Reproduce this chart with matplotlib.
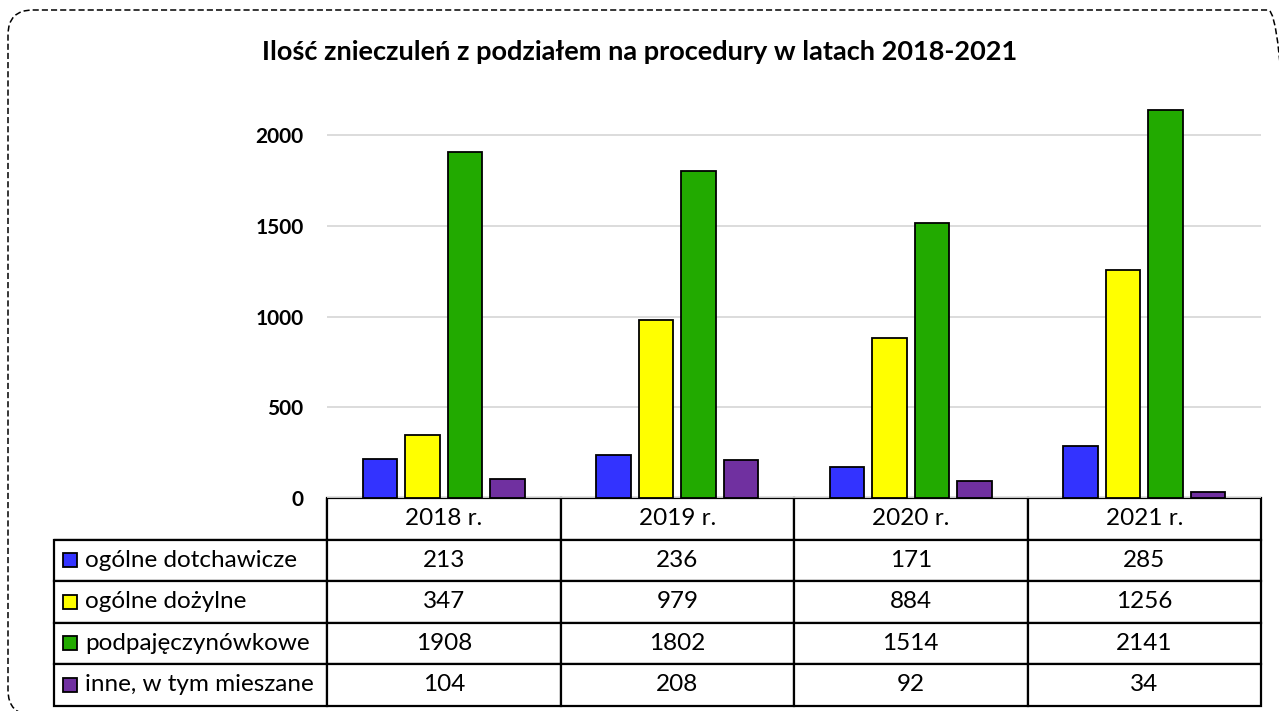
import numpy as np
import matplotlib.pyplot as plt
from matplotlib.patches import Rectangle, FancyBboxPatch

years = ['2018 r.', '2019 r.', '2020 r.', '2021 r.']
series_names = ['ogólne dotchawicze', 'ogólne dożylne', 'podpajęczynówkowe', 'inne, w tym mieszane']
dotchawicze = [213, 236, 171, 285]
dozylne = [347, 979, 884, 1256]
podpajeczynowkowe = [1908, 1802, 1514, 2141]
inne = [104, 208, 92, 34]
colors = ['#3333FF', '#FFFF00', '#22AA00', '#7030A0']

plt.rcParams['font.family'] = ['Lato', 'DejaVu Sans']

W, H = 1279, 711
fig = plt.figure(figsize=(W / 100, H / 100), dpi=100)

# plot area in pixels
x0, x1 = 327, 1261
y_zero, y_top = 498, 90
ax = fig.add_axes([x0 / W, 1 - y_zero / H, (x1 - x0) / W, (y_zero - y_top) / H])

values = [dotchawicze, dozylne, podpajeczynowkowe, inne]
x = np.arange(len(years))
step = 0.182
width = 0.146
for i, (vals, c) in enumerate(zip(values, colors)):
    ax.bar(x + (i - 1.5) * step, vals, width, color=c, edgecolor='black', linewidth=1.3, zorder=3)

ax.set_xlim(-0.5, len(years) - 0.5)
ax.set_ylim(0, 2250)
ax.set_yticks([0, 500, 1000, 1500, 2000])
ax.yaxis.grid(True, color='#d9d9d9', linewidth=1.3, zorder=0)
ax.set_axisbelow(True)
ax.tick_params(axis='y', length=0, pad=17, labelsize=15)
for lbl in ax.get_yticklabels():
    lbl.set_fontweight('bold')
ax.set_xticks([])
for s in ax.spines.values():
    s.set_visible(False)

fig.text(0.5, 1 - 52 / H, 'Ilość znieczuleń z podziałem na procedury w latach 2018-2021',
         ha='center', va='center', fontsize=19.5, fontweight='bold')

# data table below the plot
ax_h = y_zero - y_top
ax_w = x1 - x0
left_px = 54
row_h = 41.5
cell_text = [[''] + years]
for name, vals in zip(series_names, values):
    cell_text.append([name] + [str(v) for v in vals])
tab_h = row_h * len(cell_text)
tbl = ax.table(cellText=cell_text,
               colWidths=[x0 - left_px] + [ax_w / 4] * 4,
               bbox=[(left_px - x0) / ax_w, -tab_h / ax_h, (x1 - left_px) / ax_w, tab_h / ax_h],
               cellLoc='center')
tbl.auto_set_font_size(False)
for (r, c), cell in tbl.get_celld().items():
    cell.set_linewidth(1.6)
    cell.set_edgecolor('black')
    cell.get_text().set_fontsize(17.5)
    if r == 0 and c == 0:
        cell.visible_edges = 'BR'
    if c == 0 and r > 0:
        cell.get_text().set_ha('left')
        cell.PAD = (85 - left_px) / (x0 - left_px)

# legend swatches in row labels
for i, c in enumerate(colors):
    cy = y_zero + row_h * (i + 1.5)
    sq = 14
    ax.add_patch(Rectangle(((63 - x0) / ax_w, (y_zero - cy - sq / 2) / ax_h), sq / ax_w, sq / ax_h,
                           transform=ax.transAxes, facecolor=c, edgecolor='black',
                           linewidth=1.3, clip_on=False, zorder=5))

# dashed rounded border, partly running off the picture (inches)
fig.patches.append(FancyBboxPatch((0.08, -0.04), 12.85, 7.05,
                                  boxstyle='round,pad=0,rounding_size=0.25',
                                  transform=fig.dpi_scale_trans, fill=False,
                                  edgecolor='black', linestyle=(0, (4, 2)), linewidth=1.1))

fig.savefig('out.png', dpi=100)
